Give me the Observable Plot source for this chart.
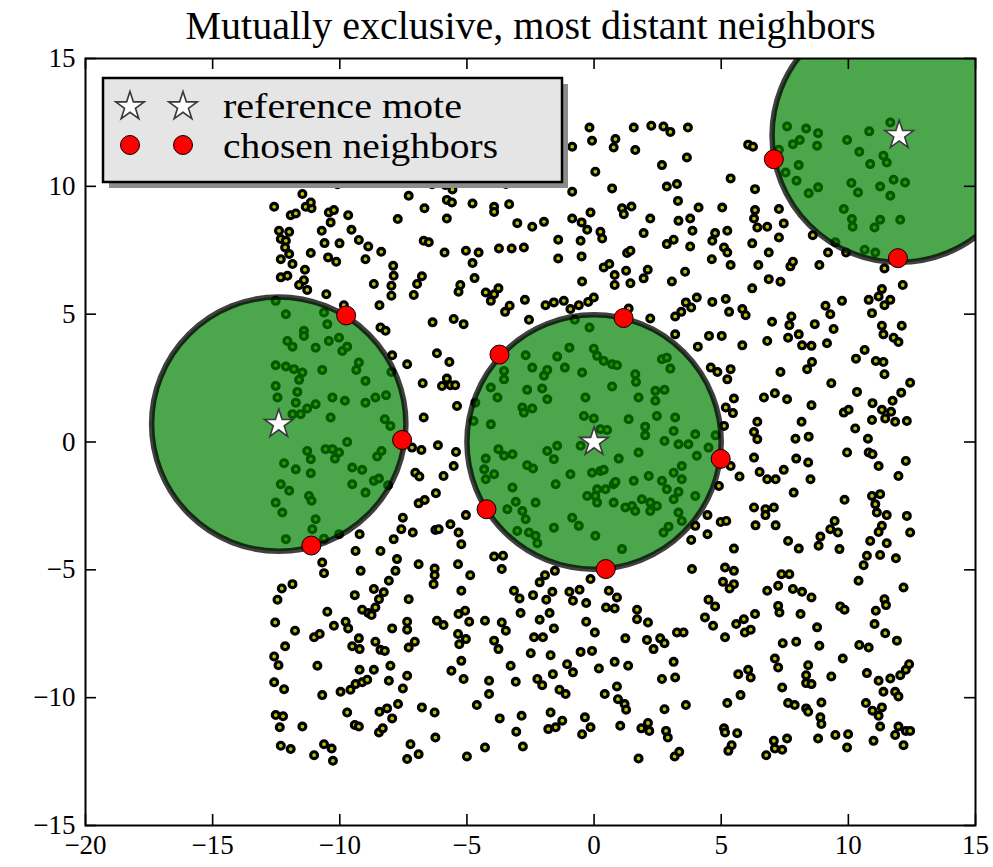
<!DOCTYPE html>
<html>
<head>
<meta charset="utf-8">
<script src="https://cdn.jsdelivr.net/npm/d3@7"></script>
<script src="https://cdn.jsdelivr.net/npm/@observablehq/plot@0.6"></script>
<style>
  body { margin: 0; background: #fff; }
  #chart { position: relative; width: 993px; height: 867px; }
  #legend { position: absolute; left: 100px; top: 75px; }
</style>
</head>
<body>
<div id="chart"></div>
<script>
// ---- data -------------------------------------------------------------
const title = "Mutually exclusive, most distant neighbors";
const xTicks = [-20, -15, -10, -5, 0, 5, 10, 15];
const yTicks = [-15, -10, -5, 0, 5, 10, 15];
const legendLabels = ["reference mote", "chosen neighbors"];

// radius of each exclusion disc, in data units
const exclusionRadius = 5;

// reference motes (disc centres)
const referenceMotes = [[-12.4, 0.7], [0, 0], [12.0, 12.0]];

// neighbours chosen on the rim of each disc
const chosenNeighbors = [
  [-9.75, 4.95], [-7.55, 0.08], [-11.12, -4.05],
  [-3.72, 3.42], [1.16, 4.85], [4.98, -0.66], [-4.23, -2.63], [0.46, -4.97],
  [7.07, 11.06], [11.95, 7.19]
];

// all motes in the field
const motes = [
  [-11.47,9.70],[-12.58,9.20],[-11.93,8.87],[-11.73,8.94],[-11.34,9.20],[-11.11,9.14],[-11.14,9.37],[-10.43,8.98],[-10.23,9.07],[-9.67,8.87],
  [-7.29,9.63],[-6.67,9.14],[-5.79,9.47],[-5.59,9.37],[-4.78,9.33],[-7.72,8.72],[-5.79,8.74],[-10.36,8.59],[-12.39,8.26],[-11.99,8.22],
  [-12.32,7.94],[-12.12,7.87],[-10.71,8.26],[-10.60,7.78],[-10.01,7.77],[-9.54,8.30],[-9.25,7.90],[-8.88,7.65],[-6.70,7.87],[-6.50,7.81],
  [-8.37,7.44],[-5.88,7.41],[-5.04,7.48],[-4.54,7.41],[-12.15,7.61],[-12.32,7.15],[-11.99,7.35],[-11.86,6.96],[-11.14,7.39],[-10.46,7.22],
  [-10.14,7.05],[-8.99,7.15],[-7.90,6.89],[-4.78,7.00],[-11.37,6.74],[-7.88,6.50],[-7.97,6.11],[-6.77,6.48],[-6.96,6.18],[-12.32,6.44],
  [-12.06,6.50],[-11.41,6.33],[-11.60,6.14],[-11.28,5.95],[-4.70,6.41],[-8.66,6.18],[-5.26,6.14],[-5.33,5.88],[-7.09,5.75],[-7.97,5.72],
  [-10.53,5.78],[-8.44,5.35],[-9.84,5.35],[-6.35,4.68],[-5.52,4.81],[-5.13,4.61],[-8.40,4.48],[-8.20,4.35],[-12.52,5.52],[-12.12,5.00],
  [-10.62,5.07],[-10.49,4.61],[-11.41,4.35],[-10.09,10.08],[-6.37,10.08],[-5.85,10.05],[-5.57,9.88],
  [-0.18,12.30],[-0.08,11.78],[0.84,11.85],[0.77,11.52],[1.62,11.42],[1.56,12.30],[2.25,12.37],[2.73,12.34],[3.00,12.13],[3.69,12.30],
  [3.65,11.13],[2.67,10.83],[-0.86,11.55],[0.05,10.57],[0.71,9.92],[2.86,9.99],[3.26,10.09],[3.30,9.43],[4.11,9.17],[-0.86,9.79],
  [-3.47,10.09],[-3.93,9.20],[-3.93,9.00],[-3.34,9.30],[1.10,9.14],[1.47,9.21],[1.17,8.91],[-3.02,8.56],[-2.43,8.42],[-1.97,8.61],
  [-0.86,8.74],[-0.49,8.59],[-0.14,8.98],[-0.27,8.30],[0.25,8.22],[0.32,7.96],[2.21,8.74],[1.95,8.17],[3.32,8.65],[3.78,8.74],
  [3.87,8.26],[2.86,7.74],[3.13,7.91],[3.78,7.65],[-1.41,7.91],[-0.53,7.87],[-3.74,7.57],[-3.24,7.57],[-2.76,7.61],[-1.41,7.18],
  [-0.49,7.26],[1.30,7.39],[1.43,7.48],[0.38,6.83],[0.60,6.96],[0.81,6.53],[0.81,6.14],[1.26,6.70],[1.43,6.21],[1.95,6.40],
  [2.11,6.74],[3.58,6.66],[3.06,6.28],[-0.47,6.28],[-4.26,5.85],[-3.93,5.78],[-3.76,6.01],[-4.06,5.52],[-2.72,5.56],[-1.91,5.35],
  [-1.58,5.46],[-1.19,5.52],[-0.93,5.20],[-0.60,5.35],[-0.23,5.48],[-0.01,5.65],[-3.50,5.09],[-3.32,5.33],[-2.56,4.78],[1.36,5.22],
  [2.21,4.83],[3.19,4.91],[3.43,5.09],[3.61,5.46],[3.82,5.26],[4.04,5.65],[-0.76,4.78],[-0.18,4.48],[-1.25,11.35],
  [6.06,11.63],[6.25,11.55],[5.37,10.31],[6.33,9.89],[5.04,9.17],[6.33,9.07],[6.29,8.74],[6.42,8.39],[6.81,8.42],[7.27,9.11],
  [7.46,8.55],[7.27,8.00],[4.76,8.17],[4.65,7.87],[5.24,8.26],[5.11,7.61],[5.24,7.41],[4.63,7.15],[5.37,6.92],[6.22,7.77],
  [6.87,7.41],[6.46,6.92],[7.72,6.87],[7.82,7.05],[8.60,8.09],[9.20,7.41],[8.86,6.92],[9.91,7.41],[9.49,7.81],[11.42,6.79],
  [12.14,6.14],[11.32,5.98],[10.80,5.56],[11.19,5.69],[11.42,5.35],[11.65,5.56],[9.75,5.52],[9.10,5.33],[9.29,5.00],[6.22,6.01],
  [6.87,6.37],[7.33,6.27],[4.65,5.48],[5.18,5.59],[5.31,5.09],[5.83,5.20],[5.96,4.96],[7.00,4.70],[7.76,4.91],[7.68,4.57],
  [8.68,4.61],[9.42,4.42],[10.93,5.04],[11.32,4.55],[12.10,4.55],
  [7.59,12.34],[8.34,12.26],[8.81,12.08],[7.82,11.65],[8.09,11.81],[8.77,11.59],[9.95,11.81],[10.82,12.15],[11.65,12.50],[10.43,11.35],
  [10.86,10.87],[11.38,11.20],[11.51,10.93],[7.27,11.43],[8.05,10.83],[7.53,10.54],[7.96,10.22],[8.44,9.73],[8.81,9.96],[10.12,10.13],
  [10.38,9.76],[11.25,9.99],[11.78,10.26],[12.23,10.15],[11.65,9.63],[9.82,9.11],[10.14,8.72],[10.17,8.42],[11.03,8.39],[11.25,8.69],
  [12.04,8.69],[10.64,7.52],[11.06,7.41],
  [-7.94,3.39],[-7.35,3.04],[-6.18,3.47],[-5.69,3.13],[-6.74,2.30],[-5.98,2.19],[-5.79,2.48],[-5.65,2.22],[-5.46,2.22],[-5.39,1.41],
  [-6.70,0.96],[-7.16,-0.22],[-6.79,-0.31],[-6.14,-0.13],[-5.43,-0.39],[-5.52,-0.94],[-7.03,-1.20],[-6.87,-1.35],[-5.92,-1.33],[-6.22,-2.00],
  [-6.90,-2.40],[-6.66,-2.27],[-8.10,-1.69],[-7.52,-2.96],[-7.58,-3.41],[-7.13,-3.54],[-6.24,-3.44],[-6.11,-3.41],[-5.65,-3.22],[-5.33,-3.54],
  [-5.22,-4.00],[-5.04,-2.86],[-7.88,-3.80],[-9.22,-3.61],[-10.03,-3.61],[-9.38,-4.26],[-8.40,-4.26],[-7.97,2.74],
  [-12.06,3.95],[-11.86,3.73],[-11.41,4.15],[-10.95,3.69],[-10.43,3.95],[-10.03,4.08],[-9.90,3.56],[-9.71,3.73],[-12.52,3.00],[-12.12,2.95],
  [-11.80,2.85],[-11.47,2.72],[-10.69,2.82],[-9.25,3.11],[-9.35,2.82],[-11.60,2.43],[-8.99,2.39],[-12.52,2.19],[-12.45,1.74],[-11.67,1.96],
  [-11.73,1.54],[-11.28,1.31],[-10.95,1.48],[-10.29,1.74],[-9.80,1.61],[-8.99,1.54],[-8.60,1.74],[-8.18,1.83],[-11.86,1.09],[-11.54,1.09],
  [-10.36,0.96],[-8.23,0.89],[-8.01,0.63],[-11.28,-0.35],[-11.14,-0.67],[-10.56,-0.28],[-10.29,-0.28],[-10.19,-0.65],[-10.03,-0.41],[-9.71,0.00],
  [-8.53,-0.57],[-8.36,-0.35],[-12.19,-0.83],[-11.73,-1.07],[-11.14,-1.22],[-12.32,-1.65],[-11.99,-1.91],[-11.21,-2.11],[-11.11,-2.30],[-9.51,-1.00],
  [-9.12,-1.09],[-9.51,-1.65],[-8.99,-1.98],[-8.66,-1.52],[-8.46,-1.43],[-12.52,-2.37],[-12.26,-2.76],[-10.95,-3.02],[-11.08,-3.41],[-12.12,-3.80],
  [-10.62,-3.78],[-4.67,1.54],[-4.74,0.82],
  [-2.69,3.39],[-2.43,2.91],[-1.97,2.59],[-1.84,2.82],[-1.45,3.34],[-1.15,2.91],[-0.97,3.69],[-0.47,2.72],[-0.01,3.65],[0.12,3.37],
  [0.38,3.17],[0.71,3.04],[0.90,3.00],[1.62,2.65],[1.65,2.35],[2.67,3.24],[2.86,3.30],[3.00,2.87],[2.41,2.00],[2.77,2.04],
  [2.41,1.61],[1.75,1.74],[0.71,2.17],[-0.34,1.74],[-1.84,1.67],[-2.04,2.09],[-2.63,2.04],[-3.54,2.78],[-3.54,2.45],[-4.06,2.13],
  [-3.80,1.74],[-2.82,1.35],[-2.43,1.31],[-2.76,1.15],[-4.06,0.69],[-0.40,1.02],[-0.01,0.92],[0.25,0.50],[0.51,0.47],[1.36,0.89],
  [2.01,0.60],[2.01,0.26],[2.47,1.02],[3.19,0.96],[3.13,0.43],[2.77,0.04],[3.32,-0.09],[3.71,-0.09],[3.98,0.30],[4.04,-0.54],
  [-1.45,-0.15],[-1.84,-0.35],[-1.58,-0.67],[-0.53,-0.15],[0.97,-0.65],[1.75,-0.41],[-3.76,-0.28],[-3.54,-0.54],[-3.21,-0.48],[-4.26,-0.65],
  [-4.32,-1.07],[-3.93,-1.26],[-4.26,-1.46],[-2.63,-0.91],[-2.40,-1.04],[-1.51,-1.65],[-0.93,-1.26],[-0.08,-1.20],[0.25,-1.13],[0.38,-1.09],
  [0.12,-1.85],[0.45,-1.85],[0.77,-1.65],[0.84,-1.56],[1.56,-1.52],[2.15,-1.33],[2.67,-1.52],[3.13,-1.20],[3.45,-0.94],[3.45,-1.46],
  [2.86,-1.85],[3.32,-1.95],[3.98,-2.11],[-3.21,-1.78],[-3.08,-2.34],[-3.41,-2.63],[-2.82,-2.70],[-2.69,-3.02],[-2.30,-2.37],[-0.27,-2.11],
  [0.05,-2.11],[0.12,-2.37],[0.77,-2.37],[1.23,-2.56],[1.49,-2.50],[1.62,-2.70],[1.88,-2.24],[2.21,-2.37],[2.21,-2.70],[2.47,-2.50],
  [3.13,-2.24],[3.32,-2.76],[3.45,-3.09],[2.93,-3.31],[2.73,-3.54],[-3.02,-3.48],[-2.56,-3.54],[-2.30,-3.67],[-2.23,-3.96],[-1.58,-3.35],
  [-0.86,-2.96],[-0.60,-3.28],[0.05,-3.67],[1.10,-4.19],[3.19,4.21],[4.08,3.73],[3.98,-3.28],[3.82,-3.83],
  [4.52,4.15],[5.02,4.15],[5.83,3.78],[6.81,3.95],[7.63,4.08],[8.05,4.21],[8.18,3.78],[8.55,3.76],[9.16,3.86],[11.38,4.21],
  [11.78,4.08],[11.97,3.91],[4.59,2.91],[4.85,2.74],[5.24,2.45],[5.37,2.85],[7.33,2.74],[8.38,2.85],[8.57,3.13],[9.33,2.30],
  [10.30,3.26],[10.64,3.60],[11.08,3.17],[11.38,3.13],[11.42,2.65],[12.43,2.32],[10.34,1.96],[12.08,1.93],[11.74,1.61],[10.95,1.52],
  [11.32,1.26],[11.45,0.92],[11.68,1.18],[11.84,0.79],[12.30,0.82],[6.68,1.74],[7.11,1.91],[7.59,1.67],[5.50,1.70],[5.18,1.35],
  [5.46,1.13],[8.55,1.44],[9.82,1.15],[10.01,1.26],[10.27,0.53],[10.93,0.86],[10.77,0.13],[6.42,0.79],[8.16,0.79],[6.29,0.39],
  [6.42,0.11],[7.92,0.13],[8.44,0.21],[5.11,0.63],[6.29,-0.61],[7.95,-0.65],[8.42,-0.80],[9.95,-0.41],[10.80,-0.41],[10.95,-0.48],
  [11.19,-0.94],[12.26,-0.74],[11.97,-1.33],[5.37,-0.94],[5.72,-1.35],[6.51,-1.17],[6.81,-1.46],[7.14,-1.46],[7.46,-1.09],[8.51,-1.46],
  [4.91,-1.72],[7.85,-1.98],[9.85,-2.26],[10.93,-2.11],[11.25,-2.04],[11.06,-2.43],[11.12,-2.76],[11.51,-2.86],[12.30,-2.89],[6.29,-2.56],
  [6.74,-2.63],[7.07,-2.56],[6.74,-2.86],[4.46,-2.86],[4.98,-3.13],[5.20,-3.09],[6.35,-3.26],[7.14,-3.26],[4.46,-3.61],[9.46,-3.09],
  [9.29,-3.41],[9.59,-3.54],[8.90,-3.70],[11.32,-3.28],[11.19,-3.52],[10.86,-3.87],[11.51,-3.96],[12.43,-3.54],[5.50,-4.17],[7.63,-3.87],
  [8.05,-4.17],[8.83,-4.06],[9.65,-4.19],[4.50,-0.22],[4.78,0.26],
  [-10.69,-4.71],[-10.62,-5.13],[-9.18,-5.04],[-7.75,-4.58],[-7.81,-5.04],[-6.90,-4.78],[-6.27,-4.95],[-6.27,-5.21],[-6.31,-5.56],[-5.35,-4.78],
  [-4.87,-5.21],[-8.07,-5.43],[-11.86,-5.56],[-12.28,-5.73],[-12.45,-6.17],[-9.41,-5.99],[-8.66,-5.75],[-8.27,-5.88],[-8.46,-6.15],[-7.29,-6.15],
  [-5.22,-5.82],[-10.49,-6.64],[-9.12,-6.56],[-8.88,-6.69],[-8.75,-6.77],[-8.60,-6.47],[-5.33,-6.73],[-5.07,-6.60],[-4.91,-7.03],[-6.18,-6.99],
  [-5.92,-7.16],[-12.54,-7.06],[-11.76,-7.38],[-10.23,-7.19],[-9.77,-7.03],[-9.67,-7.29],[-11.01,-7.64],[-10.79,-7.51],[-7.94,-7.29],[-7.35,-7.03],
  [-7.35,-7.34],[-5.35,-7.51],[-5.30,-7.91],[-5.04,-7.71],[-9.51,-7.99],[-9.22,-8.10],[-9.25,-7.68],[-8.60,-7.81],[-8.40,-8.13],[-8.23,-8.17],
  [-7.29,-8.04],[-7.05,-7.81],[-12.15,-7.99],[-12.58,-8.39],[-12.41,-8.73],[-10.88,-8.75],[-8.01,-8.75],[-9.22,-8.91],[-8.66,-8.91],[-5.22,-8.56],
  [-5.61,-8.95],[-5.13,-9.27],[-12.58,-9.40],[-12.19,-9.67],[-10.69,-9.90],[-9.97,-9.77],[-9.58,-9.69],[-9.38,-9.47],[-9.12,-9.40],[-8.92,-9.30],
  [-8.07,-9.34],[-7.35,-9.14],[-7.52,-9.64],[-4.61,-10.29],[-12.52,-10.68],[-12.23,-10.73],[-12.36,-11.16],[-11.47,-11.13],[-9.71,-10.58],[-9.41,-11.07],
  [-9.25,-11.13],[-8.44,-10.55],[-8.14,-10.42],[-7.94,-10.81],[-7.71,-10.25],[-6.77,-10.38],[-6.27,-10.58],[-8.46,-11.36],[-8.31,-11.20],[-6.24,-11.56],
  [-12.32,-11.88],[-11.93,-12.01],[-11.01,-12.25],[-10.62,-11.82],[-10.32,-11.99],[-10.27,-12.47],[-7.22,-11.82],[-6.90,-12.21],[-7.35,-12.40],[-5.00,-12.30],
  [-3.93,-4.48],[-3.58,-4.45],[-3.63,-4.97],[-1.93,-5.21],[-1.54,-5.04],[-2.14,-5.49],[-0.14,-5.36],[-3.15,-5.82],[-2.93,-6.12],[-2.40,-5.99],
  [-1.88,-6.17],[-1.64,-5.86],[-0.97,-5.86],[-0.57,-5.78],[-0.83,-6.21],[-0.31,-6.30],[0.58,-5.82],[0.90,-6.08],[0.47,-6.47],[0.81,-6.51],
  [1.69,-6.56],[1.69,-6.93],[2.12,-7.06],[3.85,-4.97],[-4.29,-6.99],[-3.63,-7.06],[-3.47,-7.38],[-2.89,-6.69],[-2.14,-6.95],[-1.75,-6.69],
  [-1.58,-7.29],[-0.31,-7.03],[0.03,-7.45],[-2.36,-7.64],[-2.01,-7.64],[-3.93,-7.77],[-3.76,-8.10],[-2.49,-8.26],[-1.71,-8.34],[-0.53,-8.21],
  [-0.08,-8.17],[1.23,-7.68],[2.08,-7.74],[2.60,-7.68],[2.77,-7.87],[2.34,-8.10],[3.26,-7.45],[3.52,-7.45],[-3.28,-8.75],[-1.06,-8.69],
  [-0.83,-9.01],[-1.62,-9.08],[0.19,-8.86],[0.81,-8.60],[1.34,-8.75],[3.13,-8.60],[3.19,-9.21],[2.67,-9.27],[-4.13,-9.34],[-3.08,-9.38],
  [-2.23,-9.27],[-2.04,-9.51],[-4.13,-9.86],[-1.36,-9.69],[-1.12,-9.86],[0.42,-9.86],[0.90,-9.56],[0.94,-10.06],[1.20,-10.25],[1.26,-10.47],
  [2.77,-10.45],[3.61,-10.29],[-1.71,-10.58],[-1.25,-10.90],[-1.51,-11.16],[-1.80,-11.23],[-2.85,-10.71],[-3.71,-10.81],[-3.06,-11.33],[-0.36,-10.77],
  [-0.14,-11.16],[-0.47,-11.43],[1.03,-11.10],[1.86,-11.20],[2.12,-10.99],[2.17,-11.30],[2.83,-11.30],[2.90,-11.56],[-4.29,-11.95],[-2.80,-11.91],
  [1.75,-12.38],[3.17,-12.30],[3.35,-12.12],
  [10.73,-4.45],[11.25,-4.42],[11.87,-4.55],[10.60,-4.82],[10.40,-5.43],[12.17,-5.69],[5.15,-4.91],[5.50,-5.04],[5.07,-5.47],[5.50,-5.56],
  [5.33,-5.73],[6.81,-5.82],[7.24,-5.62],[7.37,-5.17],[7.68,-5.17],[7.82,-5.75],[8.18,-5.86],[8.55,-6.08],[4.50,-6.17],[4.76,-6.43],
  [4.36,-6.86],[4.68,-7.19],[5.15,-7.64],[5.59,-7.12],[5.89,-6.93],[5.93,-7.45],[6.16,-7.34],[6.33,-6.73],[7.24,-6.41],[7.29,-6.67],
  [8.12,-6.73],[8.77,-7.25],[9.68,-6.43],[9.85,-6.56],[11.42,-6.15],[11.48,-6.38],[11.08,-6.60],[11.03,-7.12],[11.45,-7.48],[11.91,-7.77],
  [7.42,-7.87],[7.95,-7.81],[8.86,-7.97],[10.43,-7.94],[10.80,-8.04],[7.11,-8.47],[7.24,-8.82],[8.42,-8.73],[8.34,-9.12],[8.34,-9.43],
  [8.55,-9.47],[9.33,-9.17],[9.78,-8.47],[10.73,-9.04],[11.19,-9.34],[11.65,-9.25],[12.04,-9.12],[12.26,-8.91],[12.39,-8.69],[11.38,-9.77],
  [11.84,-9.77],[11.97,-9.95],[5.67,-9.08],[6.06,-8.91],[6.16,-9.21],[5.76,-9.90],[5.24,-10.21],[7.40,-9.60],[7.63,-10.21],[7.89,-10.29],
  [8.34,-10.42],[8.42,-10.55],[8.94,-10.19],[8.90,-10.77],[8.94,-11.03],[10.69,-10.21],[10.95,-10.51],[11.32,-10.38],[11.19,-10.71],[11.25,-11.13],
  [5.11,-11.20],[5.15,-11.36],[5.63,-11.39],[5.41,-11.86],[5.28,-12.08],[7.07,-11.69],[7.59,-11.60],[7.11,-11.99],[7.40,-12.04],[6.77,-12.25],
  [8.81,-11.60],[9.49,-11.46],[9.99,-11.43],[9.95,-11.95],[10.99,-11.69],[11.97,-11.13],[12.26,-11.30],[12.43,-11.30],[11.84,-11.46],[12.17,-11.86]
];

// ---- layout -----------------------------------------------------------
const width = 993, height = 867;
const margin = {top: 58, right: 18, bottom: 42, left: 85};
const xDomain = [-20, 15];
const yDomain = [-15, 15];
const frameW = width - margin.left - margin.right;
const frameH = height - margin.top - margin.bottom;
const tickLen = 11;
const serif = "'Liberation Serif', 'Times New Roman', serif";

const px = d => d[0], py = d => d[1];

const plot = Plot.plot({
  width, height,
  marginTop: margin.top, marginRight: margin.right,
  marginBottom: margin.bottom, marginLeft: margin.left,
  x: {domain: xDomain, label: null},
  y: {domain: yDomain, label: null},
  // radius scale in data units, so the discs share the x scale's length
  r: {type: "linear", domain: [0, xDomain[1] - xDomain[0]], range: [0, frameW]},
  style: {fontFamily: serif, fontSize: "27px", background: "white", color: "black"},
  marks: [
    // every mote
    Plot.dot(motes, {x: px, y: py, r: 3.45, fill: "#bfbf00", stroke: "black", strokeWidth: 3.1}),
    // translucent exclusion discs around each reference mote
    Plot.dot(referenceMotes, {
      x: px, y: py, r: () => exclusionRadius,
      fill: "#008000", fillOpacity: 0.7,
      stroke: "black", strokeOpacity: 0.75, strokeWidth: 5.5, clip: true
    }),
    // chosen neighbours
    Plot.dot(chosenNeighbors, {x: px, y: py, r: 9.5, fill: "#ff0000", stroke: "black", strokeWidth: 1}),
    // reference motes
    Plot.dot(referenceMotes, {x: px, y: py, symbol: "star", r: 9, fill: "white", stroke: "#3a3a3a", strokeWidth: 1.6}),
    // inward ticks on all four sides
    Plot.ruleX(xTicks, {insetTop: frameH - tickLen, stroke: "black", strokeWidth: 1.6}),
    Plot.ruleX(xTicks, {insetBottom: frameH - tickLen, stroke: "black", strokeWidth: 1.6}),
    Plot.ruleY(yTicks, {insetLeft: frameW - tickLen, stroke: "black", strokeWidth: 1.6}),
    Plot.ruleY(yTicks, {insetRight: frameW - tickLen, stroke: "black", strokeWidth: 1.6}),
    Plot.frame({stroke: "black", strokeWidth: 2}),
    Plot.axisX(xTicks, {tickSize: 0, tickPadding: 9, fontSize: 27}),
    Plot.axisY(yTicks, {tickSize: 0, tickPadding: 10, fontSize: 27}),
    Plot.text([title], {frameAnchor: "top", lineAnchor: "bottom", dy: -20, fontSize: 40})
  ]
});

const chart = document.getElementById("chart");
chart.appendChild(plot);

// ---- legend -----------------------------------------------------------
const lg = d3.select(chart).append("svg")
  .attr("id", "legend")
  .attr("width", 475).attr("height", 120);

lg.append("rect").attr("x", 9).attr("y", 9).attr("width", 459).attr("height", 104).attr("fill", "#8c8c8c");
lg.append("rect").attr("x", 3).attr("y", 3).attr("width", 459).attr("height", 104)
  .attr("fill", "#e5e5e5").attr("stroke", "black").attr("stroke-width", 2.5);

const starPath = d3.symbol(d3.symbolStar, Math.PI * 9 * 9)();
const rows = [
  {label: legendLabels[0], cy: 31.5, baseline: 43, span: 239,
   draw: (g, cx) => g.append("path").attr("d", starPath)
      .attr("transform", `translate(${cx},31.5)`).attr("fill", "white").attr("stroke", "#3a3a3a").attr("stroke-width", 1.6)},
  {label: legendLabels[1], cy: 70, baseline: 83, span: 275,
   draw: (g, cx) => g.append("circle").attr("cx", cx).attr("cy", 70).attr("r", 9.5)
      .attr("fill", "#ff0000").attr("stroke", "black").attr("stroke-width", 1)}
];
rows.forEach(row => {
  row.draw(lg, 30);
  row.draw(lg, 83);
  lg.append("text").attr("x", 123).attr("y", row.baseline)
    .attr("font-family", serif).attr("font-size", 35).attr("fill", "black")
    .attr("textLength", row.span).attr("lengthAdjust", "spacingAndGlyphs")
    .text(row.label);
});
</script>
</body>
</html>
